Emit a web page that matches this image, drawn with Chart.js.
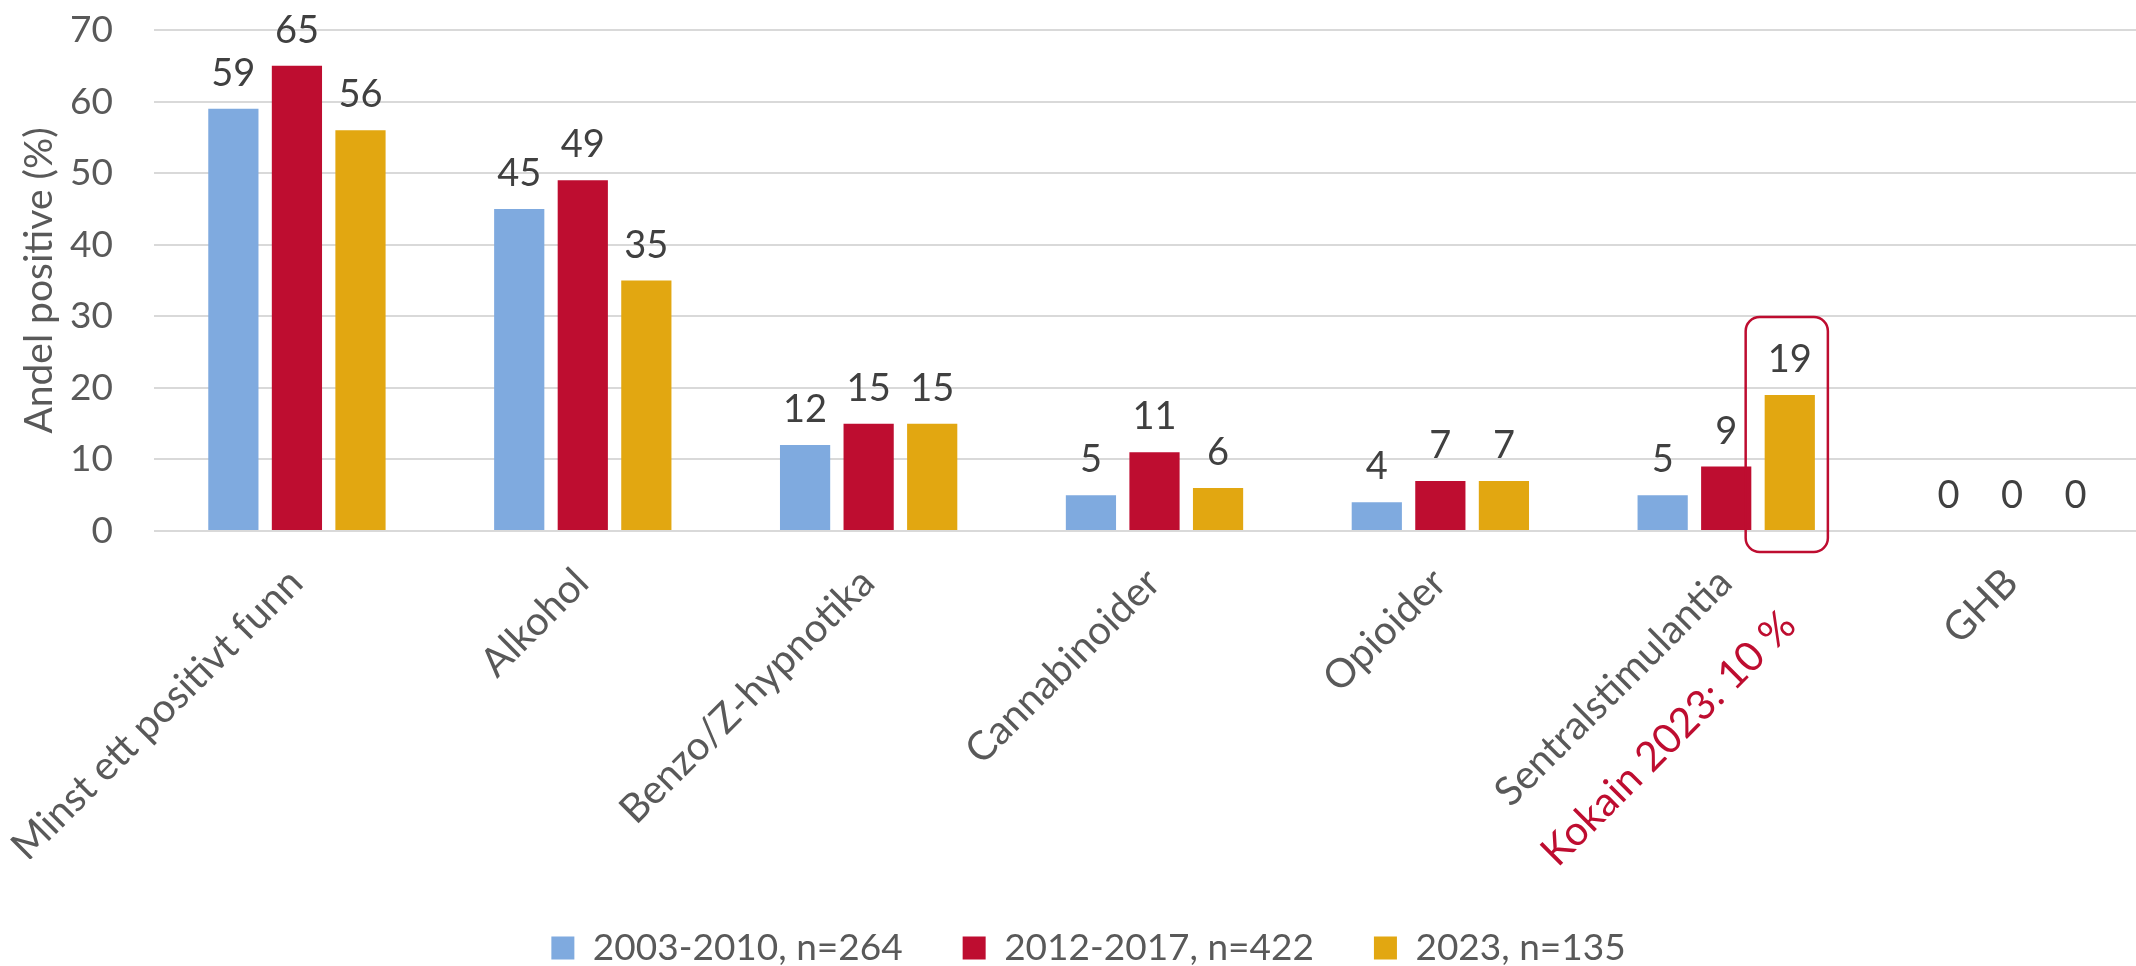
<!DOCTYPE html>
<html>
<head>
<meta charset="utf-8">
<script src="https://cdn.jsdelivr.net/npm/chart.js@4.4.1/dist/chart.umd.min.js"></script>
<style>
  html, body { margin: 0; padding: 0; background: #ffffff; overflow: hidden; }
  #wrap { position: relative; width: 2136px; height: 966px; overflow: hidden; }
  #chart { display: block; }
</style>
</head>
<body>
<div id="wrap"><canvas id="chart" width="2158" height="966" style="width:2158px;height:966px"></canvas></div>
<script>
// Categories and series
const categories = ['Minst ett positivt funn', 'Alkohol', 'Benzo/Z-hypnotika', 'Cannabinoider', 'Opioider', 'Sentralstimulantia', 'GHB'];
const seriesNames = ['2003-2010, n=264', '2012-2017, n=422', '2023, n=135'];
const values2003 = [59, 45, 12, 5, 4, 5, 0];
const values2012 = [65, 49, 15, 11, 7, 9, 0];
const values2023 = [56, 35, 15, 6, 7, 19, 0];
const yTicks = [0, 10, 20, 30, 40, 50, 60, 70];
const yTitle = 'Andel positive (%)';
const cocaineNote = 'Kokain 2023: 10 %';
const highlightCategory = 'Sentralstimulantia';
const highlightSeries = 2;

// Styling
const FONT = 'Lato';
const FS = 37;        // y ticks, legend
const FS_TITLE = 39;  // y axis title
const FS_X = 40;      // category labels
const FS_NOTE = 41;   // red note line
const FS_VAL = 38;    // value labels
const GREY = '#595959';
const DARK = '#404040';
const RED = '#BE0D30';
const COLORS = ['#7FAADF', '#BE0D30', '#E2A711'];
const X_PAD = 28;
const X_LABEL_OFFSET = -1;
const LEGEND_PAD = 60;

// value labels above each bar
const valueLabels = {
  id: 'valueLabels',
  afterDatasetsDraw(chart) {
    const ctx = chart.ctx;
    ctx.save();
    ctx.font = `${FS_VAL}px ${FONT}`;
    ctx.fillStyle = DARK;
    ctx.textAlign = 'center';
    ctx.textBaseline = 'alphabetic';
    chart.data.datasets.forEach((ds, di) => {
      const meta = chart.getDatasetMeta(di);
      meta.data.forEach((bar, i) => {
        ctx.fillText(String(ds.data[i]), bar.x, bar.y - 23);
      });
    });
    ctx.restore();
  }
};

// rounded frame around the highlighted bar
const highlightFrame = {
  id: 'highlightFrame',
  afterDatasetsDraw(chart) {
    const idx = categories.indexOf(highlightCategory);
    const bar = chart.getDatasetMeta(highlightSeries).data[idx];
    if (!bar) return;
    const ctx = chart.ctx;
    const left = bar.x - bar.width / 2 - 19;
    const right = bar.x + bar.width / 2 + 13;
    const top = bar.y - 78;
    const bottom = bar.base + 22;
    ctx.save();
    ctx.strokeStyle = RED;
    ctx.lineWidth = 2.5;
    ctx.beginPath();
    ctx.roundRect(left, top, right - left, bottom - top, 14);
    ctx.stroke();
    ctx.restore();
  }
};

// red second line under the highlighted category label
const noteLabel = {
  id: 'noteLabel',
  afterDraw(chart) {
    const xs = chart.scales.x;
    const idx = categories.indexOf(highlightCategory);
    const rot = Math.PI / 4;
    const lh = FS_X * 1.2;
    const ax = xs.getPixelForValue(idx) + X_LABEL_OFFSET + (lh / 2) * Math.sin(rot);
    const ay = xs.top + X_PAD;
    const ctx = chart.ctx;
    ctx.save();
    ctx.translate(ax, ay);
    ctx.rotate(-rot);
    ctx.font = `${FS_NOTE}px ${FONT}`;
    ctx.fillStyle = RED;
    ctx.textAlign = 'right';
    ctx.textBaseline = 'middle';
    ctx.fillText(cocaineNote, -9, lh / 2 + 51);
    ctx.restore();
  }
};

// place the legend row
const legendPlacement = {
  id: 'legendPlacement',
  afterLayout(chart) {
    const lg = chart.legend;
    if (!lg) return;
    const dx = 1088.5 - (lg.left + lg.right) / 2;
    const dy = (948 - FS / 2) - (lg.top + LEGEND_PAD);
    lg.left += dx; lg.right += dx;
    lg.top += dy; lg.bottom += dy;
  }
};

function draw() {
  new Chart(document.getElementById('chart'), {
    type: 'bar',
    data: {
      labels: categories,
      datasets: [values2003, values2012, values2023].map((vals, i) => ({
        label: seriesNames[i],
        data: vals,
        backgroundColor: COLORS[i],
        borderWidth: 0,
        barPercentage: 0.79,
        categoryPercentage: 0.667
      }))
    },
    options: {
      responsive: false,
      animation: false,
      events: [],
      layout: { padding: { top: 30, right: 3, left: 0, bottom: 0 } },
      font: { family: FONT },
      scales: {
        x: {
          grid: { display: false, drawTicks: false },
          border: { display: false },
          ticks: {
            autoSkip: false,
            minRotation: 45,
            maxRotation: 45,
            padding: X_PAD,
            labelOffset: X_LABEL_OFFSET,
            color: GREY,
            font: { family: FONT, size: FS_X }
          },
          afterFit(scale) {
            scale.height = 388 - LEGEND_PAD;
            scale.paddingLeft = 0;
            scale.paddingRight = 0;
          }
        },
        y: {
          min: 0,
          max: 70,
          afterBuildTicks(scale) { scale.ticks = yTicks.map(v => ({ value: v })); },
          grid: { color: '#D9D9D9', lineWidth: 2, drawTicks: false },
          border: { display: false },
          ticks: {
            padding: 41,
            color: GREY,
            font: { family: FONT, size: FS }
          },
          title: {
            display: true,
            text: yTitle,
            color: GREY,
            font: { family: FONT, size: FS_TITLE },
            padding: { top: 16, bottom: 0 }
          },
          afterFit(scale) {
            scale.width = 154;
            scale.paddingTop = 0;
            scale.paddingBottom = 0;
          }
        }
      },
      plugins: {
        legend: {
          position: 'bottom',
          labels: {
            boxWidth: 23,
            boxHeight: 23,
            padding: LEGEND_PAD,
            color: GREY,
            font: { family: FONT, size: FS }
          }
        },
        tooltip: { enabled: false }
      }
    },
    plugins: [highlightFrame, valueLabels, noteLabel, legendPlacement]
  });
}

if (document.fonts && document.fonts.load) {
  Promise.all([
    document.fonts.load(`${FS}px ${FONT}`),
    document.fonts.load(`${FS_X}px ${FONT}`)
  ]).then(draw, draw);
} else {
  draw();
}
</script>
</body>
</html>
